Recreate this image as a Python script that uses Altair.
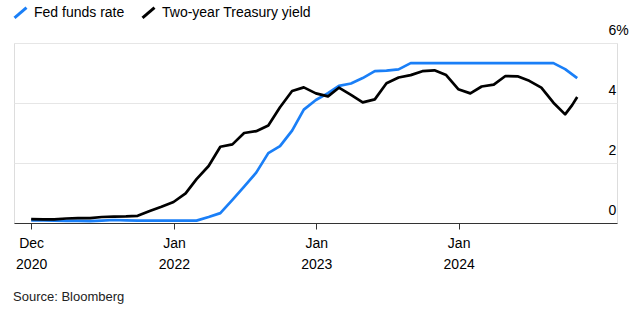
import altair as alt
import pandas as pd

FONT = "Liberation Sans"
BLUE = "#1a7ff7"

# Month-end dates, Dec 2020 .. Oct 2024 (monthly averages)
months = pd.date_range("2020-12-31", "2024-10-31", freq="ME")

fed_funds = [0.09, 0.09, 0.08, 0.07, 0.07, 0.06, 0.08, 0.10, 0.09, 0.08, 0.08, 0.08,
             0.08, 0.08, 0.08, 0.20, 0.33, 0.77, 1.21, 1.68, 2.33, 2.56, 3.08, 3.78,
             4.10, 4.33, 4.57, 4.65, 4.83, 5.06, 5.08, 5.12, 5.33, 5.33, 5.33, 5.33,
             5.33, 5.33, 5.33, 5.33, 5.33, 5.33, 5.33, 5.33, 5.33, 5.13, 4.83]

two_year = [0.13, 0.12, 0.12, 0.15, 0.16, 0.16, 0.20, 0.21, 0.22, 0.24, 0.40, 0.54,
            0.70, 0.99, 1.46, 1.90, 2.54, 2.62, 3.00, 3.06, 3.25, 3.86, 4.40, 4.52,
            4.32, 4.22, 4.51, 4.27, 4.02, 4.12, 4.66, 4.85, 4.93, 5.06, 5.09, 4.93,
            4.46, 4.32, 4.55, 4.61, 4.90, 4.89, 4.74, 4.51, 4.01, 3.62, 4.20]

# one extra intra-month reading for the two-year yield near the end
extra_dates = ["2024-10-18"]
extra_two_year = [3.93]

series_names = ["Fed funds rate", "Two-year Treasury yield"]

rows = []
for d, v in zip(months, fed_funds):
    rows.append({"date": d, "value": v, "series": series_names[0]})
for d, v in zip(months, two_year):
    rows.append({"date": d, "value": v, "series": series_names[1]})
for d, v in zip(extra_dates, extra_two_year):
    rows.append({"date": pd.Timestamp(d), "value": v, "series": series_names[1]})
df = pd.DataFrame(rows)

x_ticks = [alt.DateTime(year=2020, month=12, date=31),
           alt.DateTime(year=2022, month=1, date=1),
           alt.DateTime(year=2023, month=1, date=1),
           alt.DateTime(year=2024, month=1, date=1)]

lines = alt.Chart(df).mark_line(strokeWidth=2.7, strokeJoin="round").encode(
    x=alt.X("date:T",
            scale=alt.Scale(domain=[alt.DateTime(year=2020, month=11, date=17),
                                    alt.DateTime(year=2025, month=2, date=10)]),
            axis=alt.Axis(values=x_ticks, title=None, grid=False,
                          labelExpr="[timeFormat(datum.value, '%b'), timeFormat(datum.value, '%Y')]",
                          domainColor="#333333", domainWidth=1.2,
                          tickColor="#333333", tickSize=6, tickWidth=1,
                          labelFont=FONT, labelFontSize=14, labelColor="#000000",
                          labelLineHeight=21, labelPadding=7, labelFlush=False,
                          labelOverlap=False)),
    y=alt.Y("value:Q",
            scale=alt.Scale(domain=[0, 6], nice=False),
            axis=alt.Axis(orient="right", values=[0, 2, 4, 6], title=None,
                          labelExpr="datum.value == 6 ? '6%' : datum.label",
                          domain=False, ticks=False, grid=True,
                          gridColor="#e6e6e6", gridWidth=1,
                          labelAlign="left", labelPadding=-9,
                          labelBaseline="alphabetic", labelOffset=-8.5,
                          labelFont=FONT, labelFontSize=14, labelColor="#000000")),
    color=alt.Color("series:N",
                    scale=alt.Scale(domain=series_names, range=[BLUE, "#000000"]),
                    legend=alt.Legend(orient="none", legendX=-1, legendY=-38,
                                      direction="horizontal", title=None,
                                      symbolType="M-1,0.85L1,-0.85", symbolSize=144,
                                      symbolStrokeWidth=3, labelFont=FONT,
                                      labelFontSize=14, labelColor="#000000",
                                      columnPadding=11, labelOffset=6, padding=0)),
)

source = alt.Chart(pd.DataFrame({"t": ["Source: Bloomberg"]})).mark_text(
    align="left", baseline="middle", font=FONT, fontSize=13, color="#222222"
).encode(text="t:N", x=alt.value(-1), y=alt.value(254))

chart = alt.layer(lines, source).properties(
    width=603, height=180,
    autosize=alt.AutoSizeParams(type="none"),
    padding={"left": 14, "top": 43, "right": 20, "bottom": 102},
).configure_view(stroke=None).configure(background="white")

chart.save("out.html", embed_options={"renderer": "svg", "actions": False})
